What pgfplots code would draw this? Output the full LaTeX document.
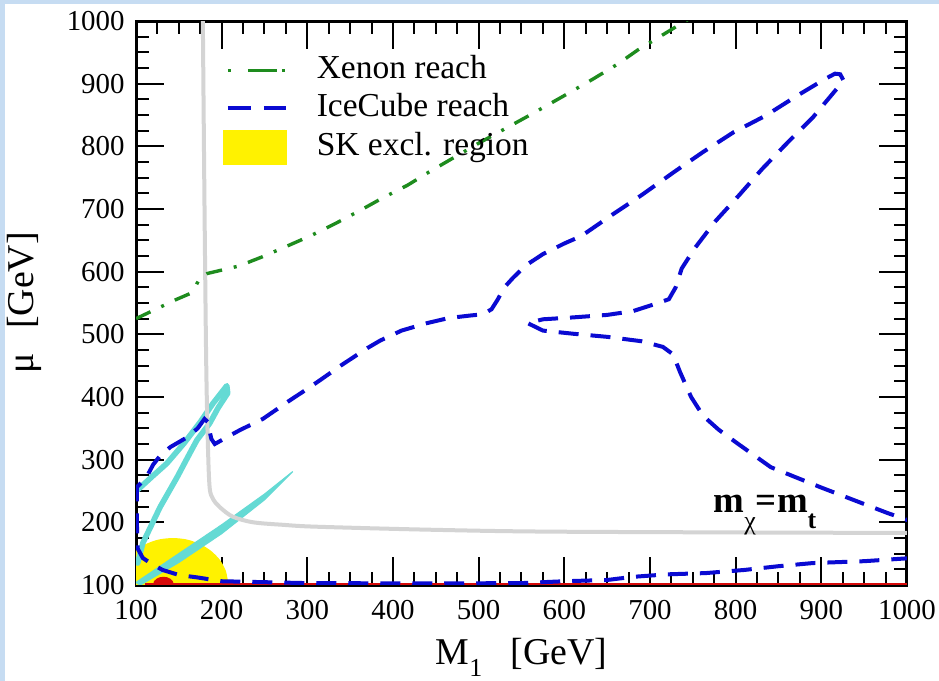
\documentclass[border=0pt]{standalone}
\usepackage{fontspec}
\setmainfont{Liberation Serif}
\usepackage{pgfplots}
\pgfplotsset{compat=1.18}
\definecolor{bgblue}{RGB}{198,220,242}
\definecolor{xenongreen}{RGB}{30,140,30}
\definecolor{iceblue}{RGB}{10,10,210}
\definecolor{mtgray}{RGB}{212,212,212}
\definecolor{cyanband}{RGB}{100,218,212}
\definecolor{skred}{RGB}{215,10,10}

\begin{document}
\begin{tikzpicture}
\useasboundingbox (0,0) rectangle (469.5bp,340.5bp);
\fill[bgblue] (0,0) rectangle (469.5bp,340.5bp);
\fill[white] (2.5bp,0) rectangle (469.5bp,338.5bp);
\begin{axis}[
  at={(68bp,48bp)}, anchor=south west,
  scale only axis, width=385.5bp, height=282bp,
  xmin=100, xmax=1000, ymin=100, ymax=1000,
  xtick={100,200,...,1000}, ytick={100,200,...,1000},
  minor tick num=3,
  tick align=inside,
  major tick length=14bp, minor tick length=6.5bp,
  axis line style={line width=1.5bp},
  every tick/.style={black, line width=1bp},
  tick label style={font=\fontsize{14.5}{16}\selectfont},
  xticklabel style={yshift=-4bp},
  yticklabel style={xshift=-2.2bp},
  /pgf/number format/assume math mode=true,
  /pgf/number format/1000 sep={},
  label style={font=\fontsize{19}{21}\selectfont},
  xlabel={M\raisebox{-0.3em}{\fontsize{13}{14}\selectfont 1}\hspace{0.75em}[GeV]},
  ylabel={μ\hspace{0.65em}[GeV]},
  x label style={at={(axis description cs:0.5,-0.1418)}, anchor=base},
  y label style={at={(axis description cs:-0.1330,0.5)}, anchor=base},
  legend style={at={(axis description cs:0.1128,0.9415)}, anchor=north west,
    draw=none, fill=none, inner xsep=0pt, inner ysep=0pt,
    font=\fontsize{16.8}{18}\selectfont, row sep=3bp, column sep=14.5bp,
    nodes={inner sep=0pt, text height=12bp, text depth=4bp}},
  legend cell align=left,
]
\addlegendimage{legend image code/.code={\draw[xenongreen, line width=1.7bp, dash pattern=on 1.5bp off 8.5bp on 14.5bp off 2.5bp] (2bp,0bp) -- (31bp,0bp);}}
\addlegendentry{Xenon reach}
\addlegendimage{legend image code/.code={\draw[iceblue, line width=2bp, dash pattern=on 11.5bp off 6.5bp] (2bp,0bp) -- (31bp,0bp);}}
\addlegendentry{IceCube reach}
\addlegendimage{legend image code/.code={\fill[yellow] (0bp,-8.5bp) rectangle (31.5bp,8.5bp);}}
\addlegendentry{SK excl. region}

% SK exclusion region
\addplot[forget plot, fill=yellow, draw=none, smooth] coordinates {
  (100,100) (100,156) (108,163) (118,169) (128,173) (143,175) (158,173)
  (168,169) (178,163) (188,154) (198,140) (205,122) (208,100)} -- cycle;

% red strip along the bottom
\addplot[forget plot, fill=skred, draw=none] coordinates {
  (110,100) (1000,100) (1000,103.5) (110,103.5)} -- cycle;
\addplot[forget plot, fill=skred, draw=none, smooth] coordinates {
  (120,100) (121,106) (124,110) (128,112.5) (132,113) (136,112.5) (140,110) (143,106) (144,100)} -- cycle;

% cyan bands
\addplot[forget plot, cyanband, line width=2.8bp, line join=round, line cap=round] coordinates {
  (102,252) (118,272) (136,294) (156,326) (175,360) (190,390) (206,418)
  (207,406) (196,383) (186,358) (171,331) (160,303) (148,272) (128,224) (108,167) (102,135)};
\addplot[forget plot, fill=cyanband, draw=cyanband, line width=0.6bp] coordinates {
  (100,104) (150,150) (200,196) (250,245) (283,281)
  (250,236) (200,182) (150,136) (105,100)} -- cycle;

% m_chi = m_t curve
\addplot[forget plot, mtgray, line width=2bp, smooth] coordinates {
  (178,1005) (180,700) (182,450) (184,320) (186,255) (190,237) (198,224)
  (213,209) (237,200) (272,196) (311,193) (450,188) (600,185) (1005,183)};

% Xenon reach
\addplot[forget plot, xenongreen, line width=1.7bp, dash pattern=on 8bp off 6bp on 1.5bp off 6bp] coordinates {
  (100,525) (146,555) (163,565) (170,578) (175,591) (183,597) (220,609)
  (248,624) (275,640) (305,658) (333,677) (362,698) (387,717) (417,738)
  (442,759) (500,805) (560,850) (600,881) (633,907) (662,931) (686,954)
  (715,978) (745,1003)};

% IceCube reach
\addplot[forget plot, iceblue, line width=2bp, dash pattern=on 10bp off 6bp] coordinates {
  (1005,143) (950,138) (890,135) (850,130) (810,124) (765,119) (720,117)
  (680,113) (650,108) (600,106) (550,103) (450,102.5) (300,103) (200,106)
  (172,112) (150,116) (131,124) (118,134) (108,143) (102,158) (101,200)
  (101,256) (108,266) (113,274) (120,292) (128,306) (140,320) (160,336)
  (172,350) (180,365) (184,360) (186,345) (188,333) (192,325) (205,335)
  (221,347) (248,365) (280,395) (300,413) (315,427) (340,451) (370,478)
  (385,490) (410,506) (440,518) (465,526) (490,530) (505,532) (515,540)
  (522,555) (530,575) (540,590) (555,610) (575,628) (600,645) (620,657)
  (655,690) (690,722) (728,759) (762,791) (797,822) (835,849) (872,881)
  (905,908) (916,916) (922,915) (926,905) (912,882) (890,846) (862,808)
  (831,764) (804,722) (776,680) (752,637) (737,605) (730,575) (722,556)
  (705,548) (680,537) (650,531) (610,527) (575,524) (557,518) (575,506)
  (610,501) (650,496) (690,489) (715,480) (727,468) (735,440) (748,400)
  (762,370) (780,348) (802,326) (841,288) (899,256) (977,215) (1010,199)};

\node[anchor=base west, inner sep=0pt, font=\fontsize{18.5}{20}\selectfont\bfseries]
  at (axis cs:774,216)
  {m\raisebox{-8.5bp}{\fontsize{13}{14}\selectfont\mdseries χ}=m\raisebox{-8bp}{\fontsize{13}{14}\selectfont t}};
\end{axis}
\end{tikzpicture}
\end{document}
